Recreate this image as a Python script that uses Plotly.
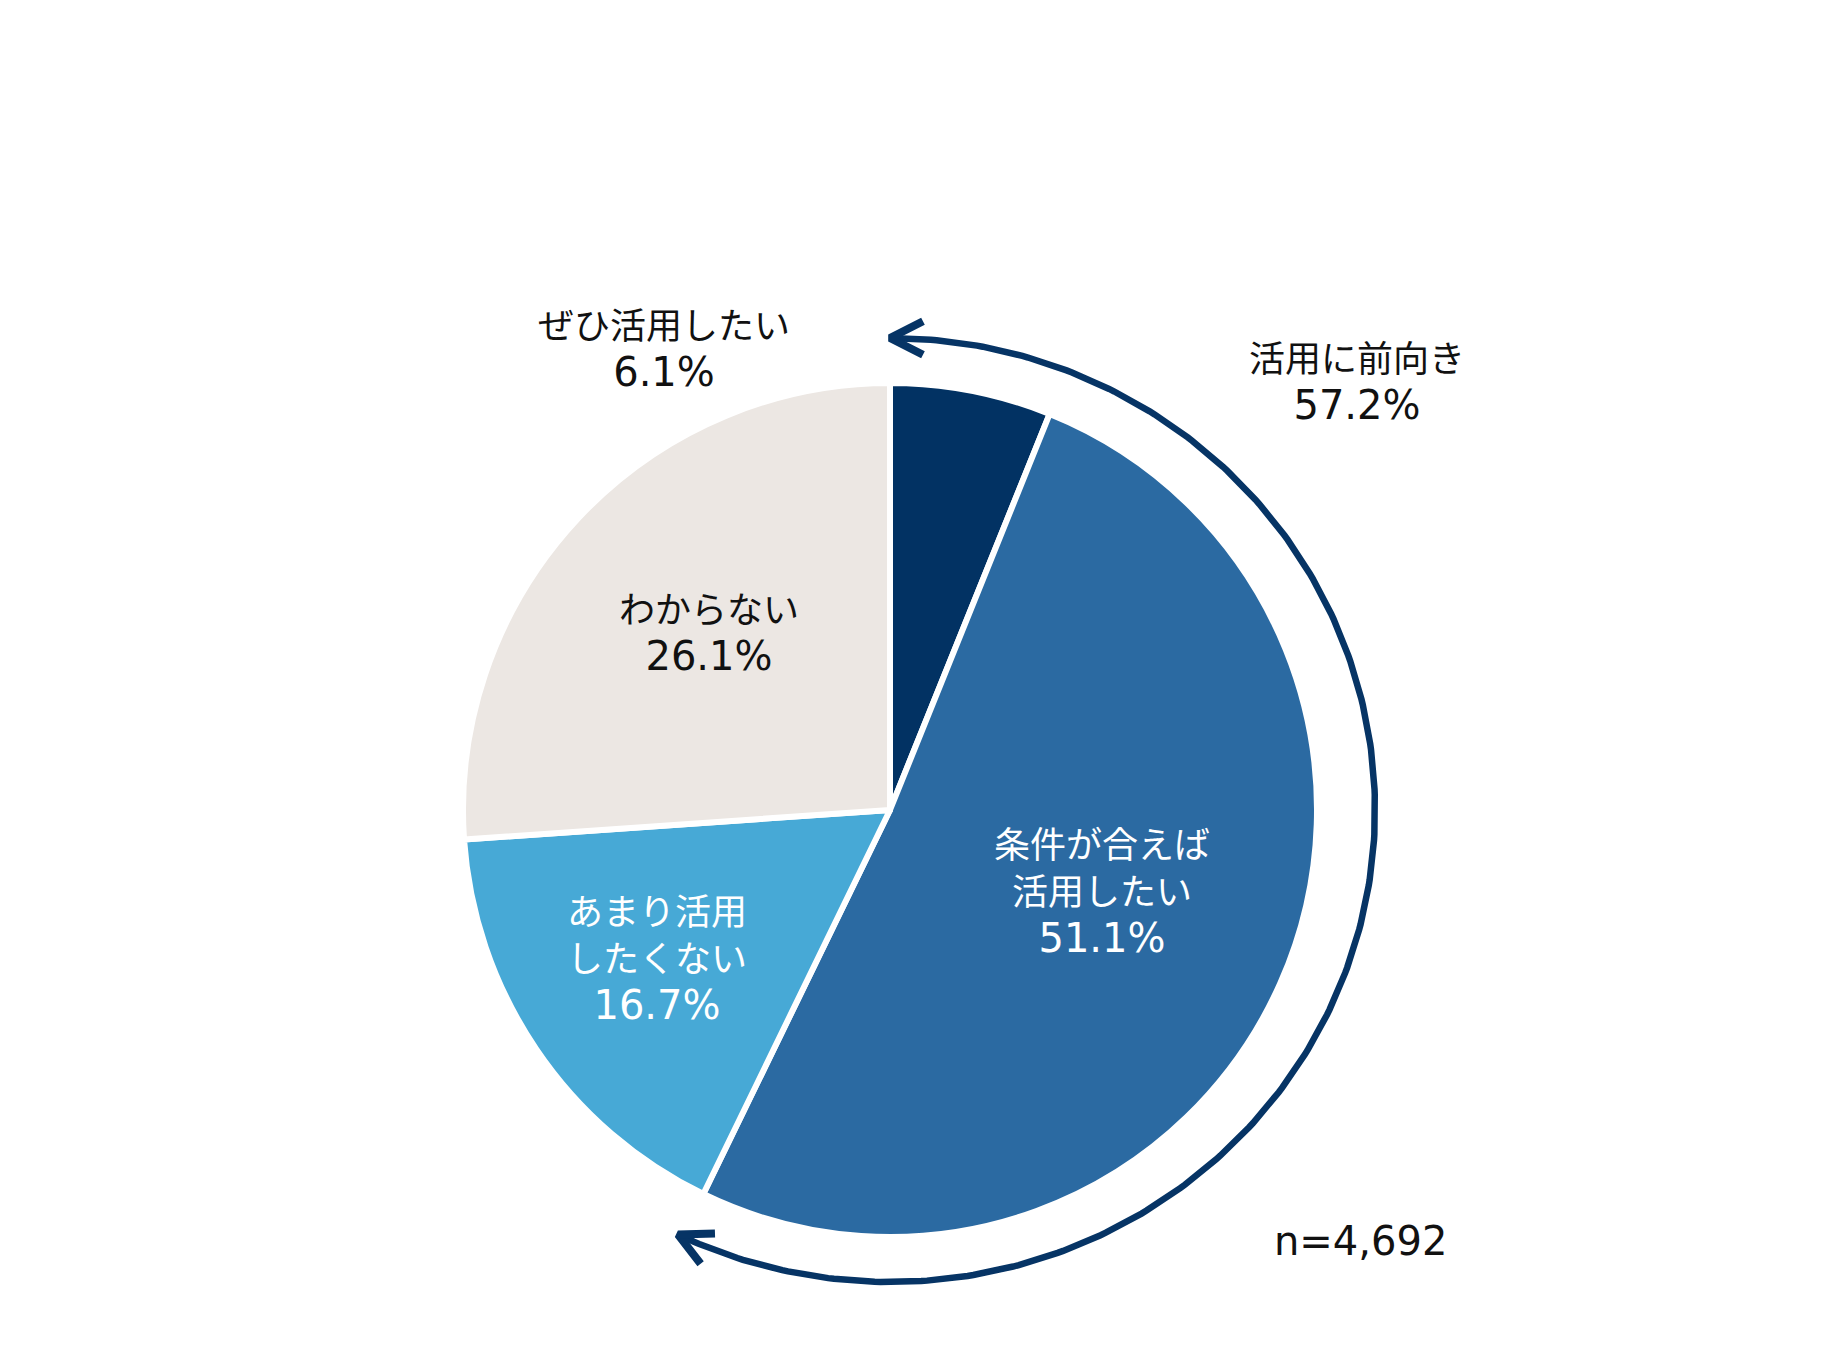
import numpy as np
import plotly.graph_objects as go

W, H = 1835, 1354

# Data
categories = ["ぜひ活用したい", "条件が合えば活用したい", "あまり活用したくない", "わからない"]
values = [6.1, 51.1, 16.7, 26.1]
colors = ["#023263", "#2b6aa2", "#47a9d6", "#ece7e3"]
positive_label = "活用に前向き"
positive_value = 57.2
n_label = "n=4,692"

# Layout geometry (pixels of the page; page body has an 8px margin)
OFF = 8
cx, cy, R = 890 - OFF, 810 - OFF, 427
arc_rx, arc_ry = 485, 472
navy = "#063465"
font_family = "DejaVu Sans, Noto Sans CJK JP"
fs = 36
num_style = '<span style="font-size:40px">{}</span>'

fig = go.Figure()

fig.add_trace(go.Pie(
    labels=categories, values=values, sort=False, direction="clockwise", rotation=0,
    marker=dict(colors=colors, line=dict(color="white", width=6)),
    textinfo="none", hoverinfo="label+percent", showlegend=False,
    domain=dict(x=[(cx - R) / W, (cx + R) / W], y=[(H - cy - R) / H, (H - cy + R) / H]),
))

# arc spanning the "positive" share
T = np.deg2rad(360 * (values[0] + values[1]) / 100)
t = np.linspace(0, T, 300)
ax = cx + arc_rx * np.sin(t)
ay = cy - arc_ry * np.cos(t)
fig.add_trace(go.Scatter(x=ax, y=ay, mode="lines", line=dict(color=navy, width=6.5),
                         hoverinfo="skip", showlegend=False))


def head(tt, sign):
    px = cx + arc_rx * np.sin(tt)
    py = cy - arc_ry * np.cos(tt)
    dx = arc_rx * np.cos(tt) * sign
    dy = arc_ry * np.sin(tt) * sign
    n = np.hypot(dx, dy)
    bx, by = -dx / n, -dy / n
    L, a = 37, np.deg2rad(27)
    pts = []
    for s in (1, -1):
        ca, sa = np.cos(s * a), np.sin(s * a)
        pts.append((px + L * (bx * ca - by * sa), py + L * (bx * sa + by * ca)))
    return [pts[0][0], px, pts[1][0]], [pts[0][1], py, pts[1][1]]


for tt, sgn in ((0.0, -1), (T, 1)):
    hx, hy = head(tt, sgn)
    fig.add_trace(go.Scatter(x=hx, y=hy, mode="lines", line=dict(color=navy, width=8),
                             hoverinfo="skip", showlegend=False))

pct = lambda v: num_style.format(f"{v}%")
annots = [
    (664, 350, f"{categories[0]}<br>{pct(values[0])}", "#111111"),
    (1357, 383, f"{positive_label}<br>{pct(positive_value)}", "#111111"),
    (1102, 893, f"条件が合えば<br>活用したい<br>{pct(values[1])}", "white"),
    (709, 634, f"{categories[3]}<br>{pct(values[3])}", "#111111"),
    (657, 960, f"あまり活用<br>したくない<br>{pct(values[2])}", "white"),
    (1360, 1241, num_style.format(n_label), "#111111"),
]
for x, y, txt, col in annots:
    fig.add_annotation(x=x - OFF, y=y - OFF, xref="x", yref="y", text=txt, showarrow=False,
                       font=dict(family=font_family, size=fs, color=col),
                       xanchor="center", yanchor="middle", align="center")

fig.update_xaxes(range=[0, W], visible=False, domain=[0, 1], fixedrange=True)
fig.update_yaxes(range=[H, 0], visible=False, domain=[0, 1], fixedrange=True)
fig.update_layout(width=W, height=H, margin=dict(l=0, r=0, t=0, b=0),
                  paper_bgcolor="white", plot_bgcolor="rgba(0,0,0,0)",
                  font=dict(family=font_family))

fig.write_html("out.html")
